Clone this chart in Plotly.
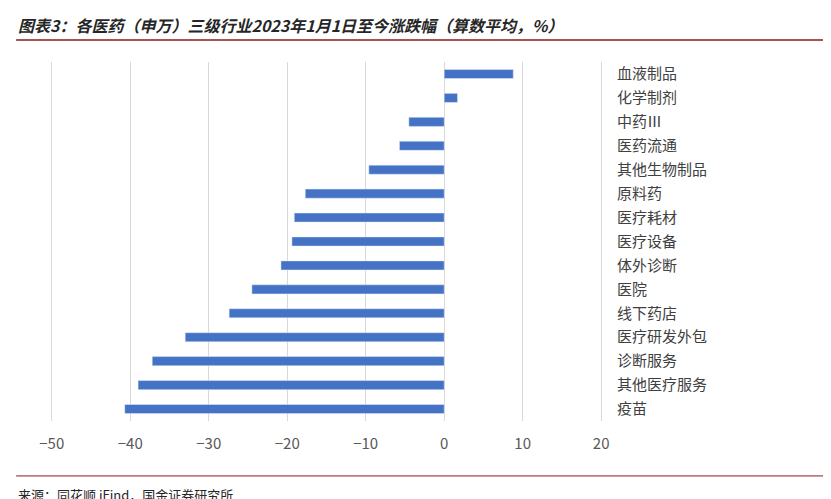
import plotly.graph_objects as go

categories = ["血液制品", "化学制剂", "中药Ⅲ", "医药流通", "其他生物制品", "原料药", "医疗耗材",
              "医疗设备", "体外诊断", "医院", "线下药店", "医疗研发外包", "诊断服务", "其他医疗服务", "疫苗"]
values = [8.8, 1.7, -4.5, -5.7, -9.6, -17.7, -19.1, -19.4, -20.8, -24.5, -27.4, -33.0, -37.2, -39.0, -40.7]
tickvals = [-50, -40, -30, -20, -10, 0, 10, 20]

font = "Noto Sans CJK SC"
fig = go.Figure()
fig.add_trace(go.Bar(x=values, y=categories, orientation="h", marker_color="#4472C4", width=0.38))

fig.update_layout(
    width=831, height=499, plot_bgcolor="white", paper_bgcolor="white",
    margin=dict(l=32, r=230, t=54, b=86), showlegend=False,
    font=dict(family=font, size=15, color="#404040"),
    xaxis=dict(range=[-51.5, 21], tickvals=tickvals, showgrid=True, gridcolor="#d9d9d9",
               zeroline=False, ticks="", ticklabelstandoff=12, tickfont=dict(size=15, color="#595959")),
    yaxis=dict(autorange="reversed", side="right", showgrid=False, ticks="",
               ticklabelstandoff=7, tickfont=dict(size=15, color="#404040")),
    shapes=[
        dict(type="line", xref="paper", yref="paper", x0=-0.042, x1=1.394, y0=1.061, y1=1.061,
             line=dict(color="#8B1A1A", width=1.5)),
        dict(type="line", xref="paper", yref="paper", x0=-0.042, x1=1.394, y0=-0.153, y1=-0.153,
             line=dict(color="#8B1A1A", width=1)),
    ],
    annotations=[
        dict(text="<b><i>图表3：各医药（申万）三级行业2023年1月1日至今涨跌幅（算数平均，%）</i></b>",
             xref="paper", yref="paper", x=-0.042, y=1.103, xanchor="left", yanchor="middle",
             showarrow=False, font=dict(size=16, color="#262626")),
        dict(text="来源：同花顺 iFind，国金证券研究所", xref="paper", yref="paper", x=-0.042, y=-0.206,
             xanchor="left", yanchor="middle", showarrow=False, font=dict(size=13, color="#262626")),
    ],
)
fig.write_html("out.html")
